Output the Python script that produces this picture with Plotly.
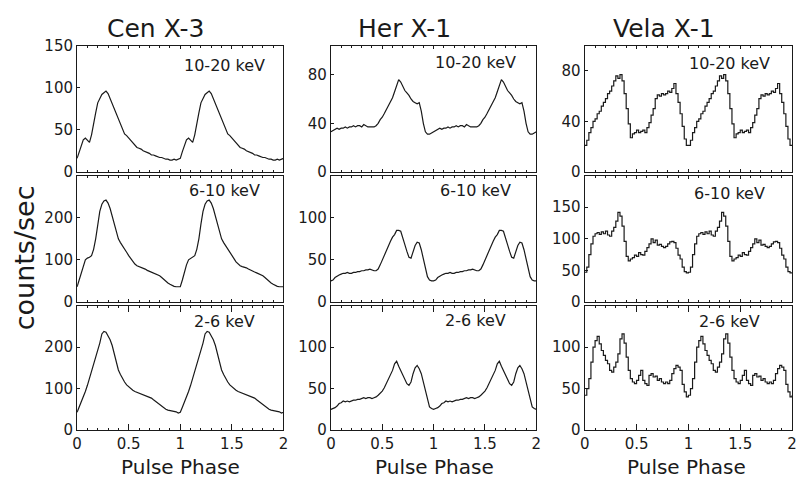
import plotly.graph_objects as go

# ---------------- data (one pulse cycle, 50 phase bins; plotted twice) ----------------
PHASE_BINS = [i / 50 for i in range(50)]

cen_10_20 = [16, 24, 30, 38, 40, 37, 35, 44, 55, 70, 82, 88, 92, 94, 96, 93, 87, 79, 73, 68,
             62, 55, 50, 45, 43, 40, 37, 34, 31, 29, 28, 27, 25, 24, 23, 22, 20, 20, 19, 18,
             17, 17, 16, 15, 15, 14, 14, 15, 14, 15]
cen_6_10 = [36, 52, 71, 88, 100, 104, 106, 110, 125, 150, 185, 215, 232, 240, 242, 235, 222, 205, 188, 168,
            150, 141, 134, 126, 118, 110, 103, 95, 90, 86, 84, 83, 81, 78, 75, 73, 71, 69, 67, 64,
            62, 58, 53, 49, 45, 42, 39, 37, 36, 36]
cen_2_6 = [43, 55, 67, 80, 93, 108, 125, 140, 155, 172, 190, 210, 232, 238, 236, 228, 218, 204, 186, 165,
           145, 134, 124, 116, 109, 104, 99, 96, 93, 91, 89, 87, 85, 83, 81, 79, 77, 73, 69, 65,
           61, 57, 53, 50, 48, 47, 45, 45, 44, 41]

her_10_20 = [33, 34, 35, 36, 35, 36, 36, 37, 36, 37, 37, 38, 37, 38, 38, 37, 39, 38, 37, 37,
             37, 37, 38, 40, 43, 45, 48, 51, 54, 57, 61, 66, 72, 76, 74, 70, 67, 65, 63, 60,
             58, 57, 56, 57, 50, 40, 33, 31, 31, 32]
her_6_10 = [25, 26, 29, 31, 32, 33, 34, 34, 35, 34, 34, 35, 35, 36, 36, 37, 37, 38, 38, 39,
            38, 37, 37, 39, 44, 50, 55, 60, 66, 72, 77, 80, 85, 85, 84, 77, 68, 60, 53, 52,
            60, 67, 71, 70, 62, 52, 40, 30, 26, 25]
her_2_6 = [25, 26, 27, 29, 32, 33, 35, 34, 35, 34, 35, 36, 36, 37, 37, 38, 39, 38, 39, 39,
           38, 39, 40, 42, 44, 47, 51, 56, 61, 66, 72, 80, 83, 77, 72, 65, 60, 56, 54, 58,
           68, 75, 78, 74, 68, 58, 47, 36, 28, 26]

vela_10_20 = [21, 25, 31, 35, 40, 42, 46, 48, 52, 55, 58, 62, 64, 68, 72, 76, 74, 77, 72, 62,
              50, 38, 27, 30, 31, 33, 31, 32, 33, 31, 35, 39, 45, 50, 58, 61, 60, 62, 61, 62,
              64, 63, 66, 70, 62, 55, 46, 36, 26, 21]
vela_6_10 = [47, 55, 75, 92, 104, 108, 110, 107, 111, 108, 112, 106, 104, 112, 118, 128, 142, 136, 120, 96,
             72, 65, 68, 70, 74, 72, 78, 75, 74, 80, 86, 92, 100, 94, 98, 90, 91, 88, 86, 88,
             92, 95, 96, 94, 85, 74, 68, 55, 48, 46]
vela_2_6 = [42, 50, 62, 82, 100, 108, 113, 104, 96, 90, 84, 80, 72, 70, 76, 82, 92, 110, 116, 105,
            88, 72, 62, 58, 56, 60, 66, 72, 60, 56, 54, 66, 68, 64, 65, 60, 62, 58, 56, 58,
            56, 60, 68, 74, 78, 76, 72, 55, 46, 40]

sources = ["Cen X-3", "Her X-1", "Vela X-1"]
bands = ["10-20 keV", "6-10 keV", "2-6 keV"]
profiles = [[cen_10_20, her_10_20, vela_10_20],
            [cen_6_10, her_6_10, vela_6_10],
            [cen_2_6, her_2_6, vela_2_6]]
y_max = [[150, 104, 100], [300, 150, 200], [300, 150, 150]]
y_ticks = [[[0, 50, 100, 150], [0, 40, 80], [0, 40, 80]],
           [[0, 100, 200], [0, 50, 100], [0, 50, 100, 150]],
           [[0, 100, 200], [0, 50, 100], [0, 50, 100]]]
x_ticks = [0, 0.5, 1, 1.5, 2]
x_ticklabels = ["0", "0.5", "1", "1.5", "2"]
shapes_line = ["linear", "linear", "hv"]

# ---------------- layout geometry (paper fractions) ----------------
W, H = 805, 493
col_px = [(73, 282), (330, 538), (587, 797)]
row_px = [(38, 169), (173, 304), (308, 437)]
FONT = "DejaVu Sans"
INK = "#1a1a1a"

fig = go.Figure()
layout = dict(width=W, height=H, margin=dict(l=0, r=0, t=0, b=0),
              paper_bgcolor="white", plot_bgcolor="white", showlegend=False,
              font=dict(family=FONT, color=INK))
annotations = []

for r in range(3):
    for c in range(3):
        k = r * 3 + c + 1
        xa = "x" if k == 1 else f"x{k}"
        ya = "y" if k == 1 else f"y{k}"
        cyc = profiles[r][c]
        xs = PHASE_BINS + [1 + p for p in PHASE_BINS] + [2.0]
        ys = cyc + cyc + [cyc[0]]
        fig.add_trace(go.Scatter(x=xs, y=ys, mode="lines", xaxis=xa, yaxis=ya,
                                 line=dict(color=INK, width=1.2, shape=shapes_line[c]),
                                 hoverinfo="skip"))
        x0, x1 = col_px[c]
        t0, t1 = row_px[r]
        layout["xaxis" if k == 1 else f"xaxis{k}"] = dict(
            domain=[x0 / W, x1 / W], anchor=ya, range=[0, 2],
            tickvals=x_ticks, ticktext=x_ticklabels, showticklabels=(r == 2),
            ticks="inside", ticklen=6 if r == 2 else 3, tickwidth=1, tickcolor=INK,
            minor=dict(dtick=0.1, ticks="inside", ticklen=2, tickcolor=INK),
            showline=True, linecolor=INK, linewidth=1.2, mirror="ticks",
            showgrid=False, zeroline=False, tickfont=dict(size=15, family=FONT, color=INK))
        layout["yaxis" if k == 1 else f"yaxis{k}"] = dict(
            domain=[1 - t1 / H, 1 - t0 / H], anchor=xa, range=[0, y_max[r][c]],
            tickvals=y_ticks[r][c], ticks="inside", ticklen=3, tickcolor=INK,
            showline=True, linecolor=INK, linewidth=1.2, mirror=True,
            showgrid=False, zeroline=False, tickfont=dict(size=15, family=FONT, color=INK))

# source titles
title_x = [152, 405, 667]
for c in range(3):
    annotations.append(dict(text=sources[c], x=title_x[c] / W, y=1 - 20 / H, xref="paper", yref="paper",
                            showarrow=False, font=dict(size=25, family=FONT, color=INK),
                            xanchor="center", yanchor="middle"))

# energy band labels
band_x = [222, 476, 734]
band_y = [[59, 56, 57], [188, 188, 192], [324, 323, 324]]
for r in range(3):
    for c in range(3):
        annotations.append(dict(text=bands[r], x=band_x[c] / W, y=1 - band_y[r][c] / H,
                                xref="paper", yref="paper", showarrow=False,
                                font=dict(size=16, family=FONT, color=INK),
                                xanchor="center", yanchor="middle"))

# axis titles
for c, xc in enumerate([178, 435, 690]):
    annotations.append(dict(text="Pulse Phase", x=xc / W, y=1 - 475 / H, xref="paper", yref="paper",
                            showarrow=False, font=dict(size=20, family=FONT, color=INK),
                            xanchor="center", yanchor="middle"))
annotations.append(dict(text="counts/sec", x=20 / W, y=1 - 258 / H, xref="paper", yref="paper",
                        showarrow=False, textangle=-90, font=dict(size=27, family=FONT, color=INK),
                        xanchor="center", yanchor="middle"))

layout["annotations"] = annotations
fig.update_layout(**layout)
fig.write_html("out.html")
